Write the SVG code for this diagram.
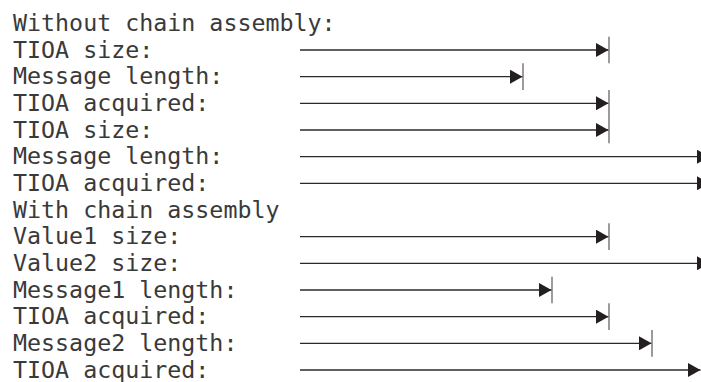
<svg xmlns="http://www.w3.org/2000/svg" width="701" height="382" viewBox="0 0 701 382">
  <style>
    text { font-family: "DejaVu Sans Mono", "Liberation Mono", monospace; font-size: 23.3px; fill: #3a3a3a; }
    .ln { stroke: #2a2a2a; stroke-width: 1.3; fill: none; marker-end: url(#arr); }
    .bar { stroke: #666; stroke-width: 1.3; fill: none; }
  </style>
  <defs>
    <marker id="arr" markerUnits="userSpaceOnUse" markerWidth="13" markerHeight="14" refX="12.5" refY="7" orient="auto" viewBox="0 0 13 14">
      <path d="M0,0 L12.5,7 L0,14 z" fill="#231f20"/>
    </marker>
  </defs>
  <g id="labels">
    <g id="h1"><text x="13" y="31">Without chain assembly:</text></g>
    <g id="r1"><text x="13" y="57.67">TIOA size:</text></g>
    <g id="r2"><text x="13" y="84.33">Message length:</text></g>
    <g id="r3"><text x="13" y="111">TIOA acquired:</text></g>
    <g id="r4"><text x="13" y="137.67">TIOA size:</text></g>
    <g id="r5"><text x="13" y="164.33">Message length:</text></g>
    <g id="r6"><text x="13" y="191">TIOA acquired:</text></g>
    <g id="h2"><text x="13" y="217.67">With chain assembly</text></g>
    <g id="r8"><text x="13" y="244.33">Value1 size:</text></g>
    <g id="r9"><text x="13" y="271">Value2 size:</text></g>
    <g id="r10"><text x="13" y="297.67">Message1 length:</text></g>
    <g id="r11"><text x="13" y="324.33">TIOA acquired:</text></g>
    <g id="r12"><text x="13" y="351">Message2 length:</text></g>
    <g id="r13"><text x="13" y="377.67">TIOA acquired:</text></g>
  </g>
  <g id="connectors">
    <line class="ln" x1="300" y1="50" x2="608.5" y2="50"/>
    <line class="ln" x1="300" y1="76.67" x2="522.5" y2="76.67"/>
    <line class="ln" x1="300" y1="103.33" x2="608.5" y2="103.33"/>
    <line class="ln" x1="300" y1="130" x2="608.5" y2="130"/>
    <line class="ln" x1="300" y1="156.67" x2="709.5" y2="156.67"/>
    <line class="ln" x1="300" y1="183.33" x2="709.5" y2="183.33"/>
    <line class="ln" x1="300" y1="236.67" x2="608.5" y2="236.67"/>
    <line class="ln" x1="300" y1="263.33" x2="709.5" y2="263.33"/>
    <line class="ln" x1="300" y1="290" x2="551.5" y2="290"/>
    <line class="ln" x1="300" y1="316.67" x2="608.5" y2="316.67"/>
    <line class="ln" x1="300" y1="343.33" x2="651.5" y2="343.33"/>
    <line class="ln" x1="300" y1="370" x2="700.5" y2="370"/>
    <line class="bar" x1="609" y1="36.7" x2="609" y2="63.3"/>
    <line class="bar" x1="523" y1="63.3" x2="523" y2="90"/>
    <line class="bar" x1="609" y1="90" x2="609" y2="143.3"/>
    <line class="bar" x1="609" y1="223.3" x2="609" y2="250"/>
    <line class="bar" x1="552" y1="276.7" x2="552" y2="303.3"/>
    <line class="bar" x1="609" y1="303.3" x2="609" y2="330"/>
    <line class="bar" x1="652" y1="330" x2="652" y2="356.7"/>
  </g>
</svg>
